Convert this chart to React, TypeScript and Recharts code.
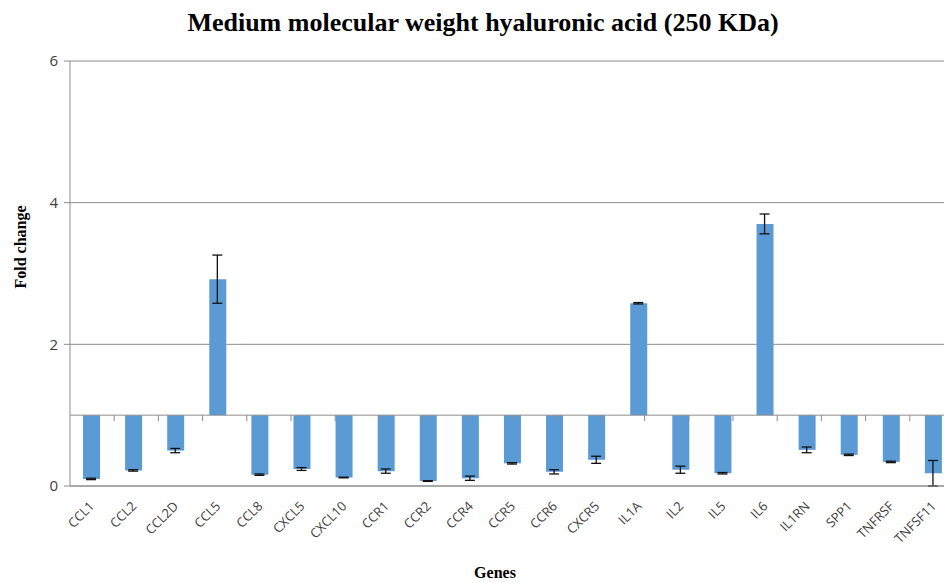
import {
  ComposedChart,
  Bar,
  Line,
  ErrorBar,
  XAxis,
  YAxis,
  CartesianGrid,
  ReferenceLine,
} from "recharts";

const GENES = [
  "CCL1", "CCL2", "CCL2D", "CCL5", "CCL8", "CXCL5", "CXCL10", "CCR1", "CCR2", "CCR4", "CCR5",
  "CCR6", "CXCR5", "IL1A", "IL2", "IL5", "IL6", "IL1RN", "SPP1", "TNFRSF", "TNFSF11",
];

const FOLD = [
  0.1, 0.22, 0.5, 2.92, 0.16, 0.24, 0.12, 0.21, 0.07, 0.11, 0.32,
  0.2, 0.37, 2.58, 0.23, 0.18, 3.7, 0.51, 0.44, 0.34, 0.18,
];

const ERR = [
  0.01, 0.01, 0.03, 0.34, 0.01, 0.02, 0.005, 0.03, 0.005, 0.03, 0.01,
  0.03, 0.05, 0.01, 0.05, 0.01, 0.14, 0.04, 0.01, 0.01, 0.18,
];

const Y_TICKS = [0, 2, 4, 6];
const BASELINE = 1;

const TITLE = "Medium molecular weight hyaluronic acid (250 KDa)";
const X_LABEL = "Genes";
const Y_LABEL = "Fold change";

const GRID = "#8c8c8c";
const BAR = "#5b9bd5";
const SERIF = "'Liberation Serif', 'Times New Roman', serif";

// bars hang from / rise above the fold-change baseline of 1
const chartData = GENES.map((g, i) => ({
  gene: g,
  fold: FOLD[i],
  range: FOLD[i] < BASELINE ? [FOLD[i], BASELINE] : [BASELINE, FOLD[i]],
  err: ERR[i],
}));

const boundaries = GENES.map((_, i) => i).slice(1);

function GeneTick(props: any) {
  const { x, y, payload } = props;
  const tx = x + 4;
  const ty = y + 21;
  return (
    <text
      x={tx}
      y={ty}
      textAnchor="end"
      transform={`rotate(-45, ${tx}, ${ty})`}
      fontSize={13}
      fontFamily="'Open Sans', sans-serif"
      fill="#404040"
    >
      {payload.value}
    </text>
  );
}

export default function App() {
  return (
    <div style={{ position: "relative", width: 944, height: 583, overflow: "hidden", background: "#fff" }}>
      <style>{`body { margin: 0; }`}</style>
      <ComposedChart
        width={954}
        height={583}
        data={chartData}
        margin={{ top: 61, right: 0, left: 0, bottom: 37 }}
      >
        <CartesianGrid horizontal vertical={false} stroke={GRID} />
        <XAxis
          xAxisId="cat"
          dataKey="gene"
          interval={0}
          tickLine={false}
          tickSize={0}
          tickMargin={0}
          axisLine={{ stroke: GRID }}
          height={60}
          tick={<GeneTick />}
        />
        <XAxis xAxisId="num" type="number" domain={[0, GENES.length]} hide />
        <YAxis
          domain={[0, 6]}
          ticks={Y_TICKS}
          width={70}
          tickSize={6}
          tickMargin={6}
          axisLine={{ stroke: GRID }}
          tickLine={{ stroke: GRID }}
          tick={{ fontSize: 15, fill: "#404040", fontFamily: "'Open Sans', sans-serif" }}
        />
        <ReferenceLine xAxisId="cat" y={BASELINE} stroke={GRID} />
        {boundaries.map((b) => (
          <ReferenceLine
            key={b}
            xAxisId="num"
            segment={[
              { x: b, y: BASELINE },
              { x: b, y: BASELINE - 0.085 },
            ]}
            stroke={GRID}
          />
        ))}
        <Bar xAxisId="cat" dataKey="range" fill={BAR} barSize={17} isAnimationActive={false} />
        <Line
          xAxisId="cat"
          dataKey="fold"
          stroke="none"
          dot={false}
          activeDot={false}
          isAnimationActive={false}
        >
          <ErrorBar dataKey="err" width={5} stroke="#111" strokeWidth={1.3} direction="y" />
        </Line>
      </ComposedChart>
      <svg
        width={944}
        height={583}
        style={{ position: "absolute", left: 0, top: 0, pointerEvents: "none" }}
      >
        <text x={483} y={31} textAnchor="middle" fontFamily={SERIF} fontWeight="bold" fontSize={26} fill="#000">
          {TITLE}
        </text>
        <text
          x={26}
          y={247}
          textAnchor="middle"
          transform="rotate(-90, 26, 247)"
          fontFamily={SERIF}
          fontWeight="bold"
          fontSize={16}
          fill="#000"
        >
          {Y_LABEL}
        </text>
        <text x={495} y={578} textAnchor="middle" fontFamily={SERIF} fontWeight="bold" fontSize={16} fill="#000">
          {X_LABEL}
        </text>
      </svg>
    </div>
  );
}
